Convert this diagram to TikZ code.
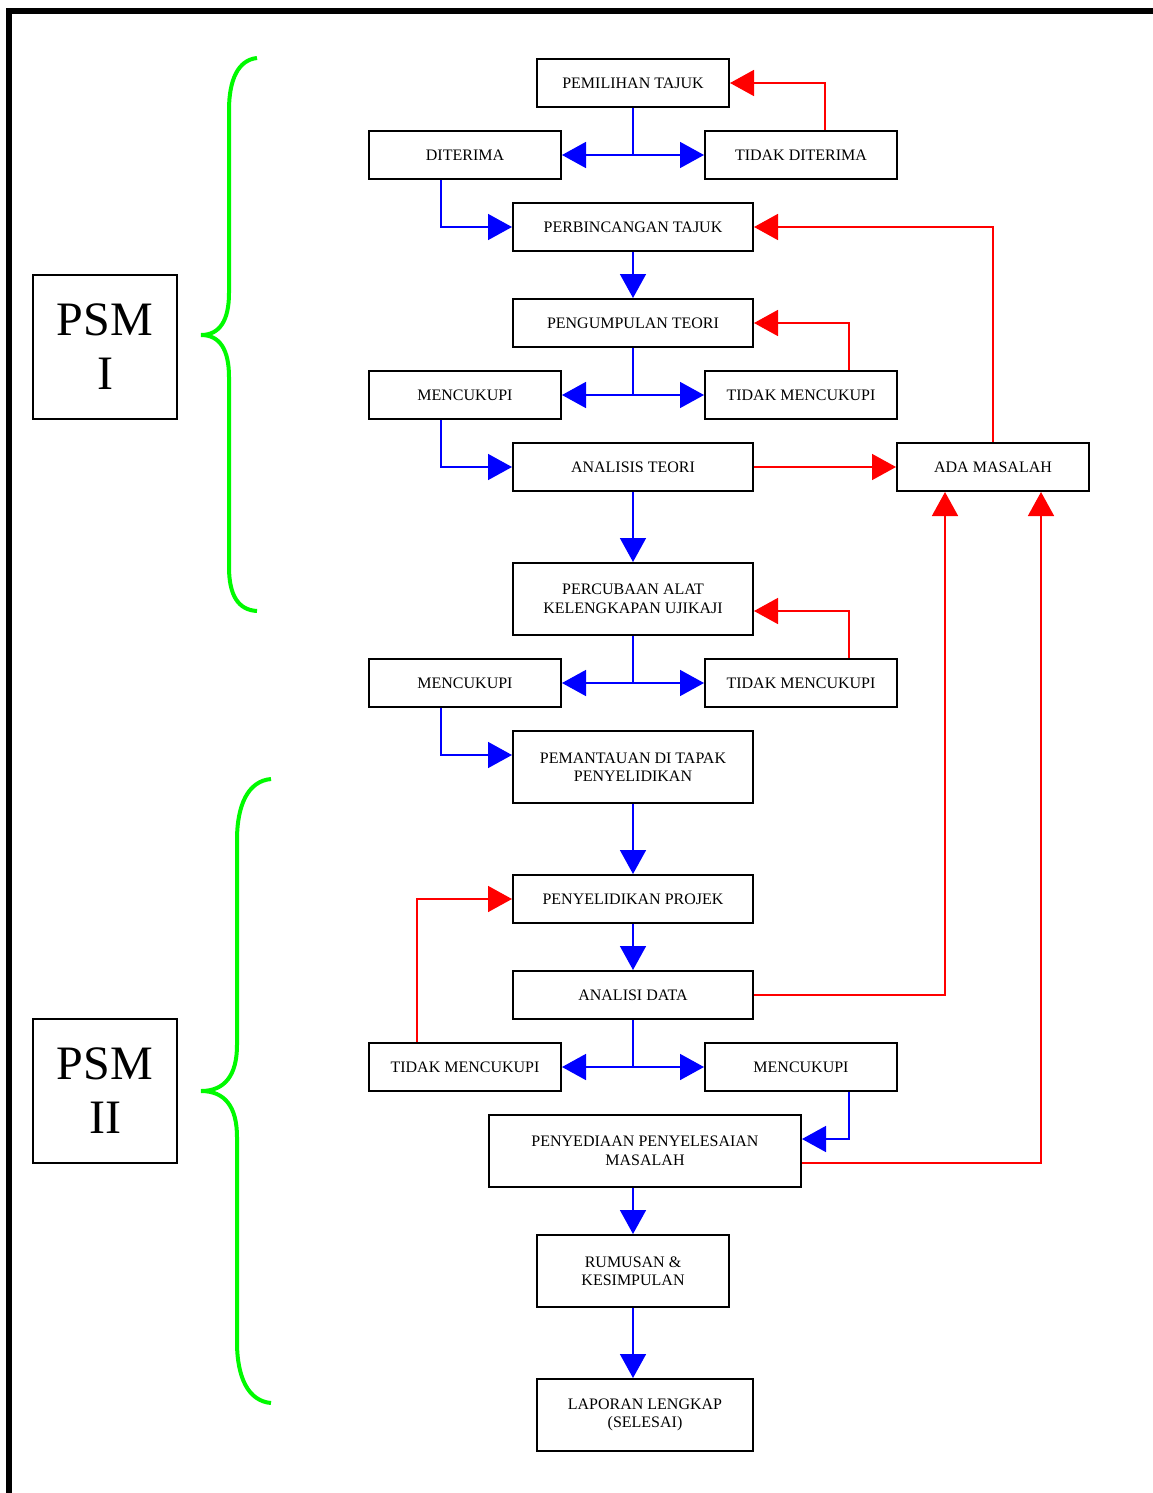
\documentclass[tikz,border=0pt]{standalone}
\usepackage{fontspec}
\setmainfont{Liberation Serif}
\usetikzlibrary{arrows.meta}
\begin{document}
\begin{tikzpicture}[x=1pt,y=-1pt,
  box/.style={draw=black,line width=2pt,align=center,inner sep=0pt,font=\fontsize{16}{18.5}\selectfont},
  sbox/.style={box,minimum width=192pt,minimum height=48pt},
  wbox/.style={box,minimum width=240pt,minimum height=48pt},
  wtall/.style={box,minimum width=240pt,minimum height=72pt},
  psmbox/.style={draw=black,line width=1.6pt,align=center,inner sep=0pt,minimum width=144pt,minimum height=144pt,font=\fontsize{48}{54}\selectfont},
  bline/.style={draw=blue,line width=1.6pt},
  rline/.style={draw=red,line width=1.6pt},
  barr/.style={bline,-{Triangle[length=24pt,width=26pt]}},
  rarr/.style={rline,-{Triangle[length=24pt,width=26pt]}},
  brace/.style={draw={rgb,255:red,0;green,250;blue,0},line width=4pt}
]
\useasboundingbox (0,0) rectangle (1153,1493);
\draw[line width=6pt] (9,1493) -- (9,11) -- (1153,11);

% PSM labels and braces
\node[psmbox] (psa) at (105,347) {PSM\\I};
\node[psmbox] (psb) at (105,1091) {PSM\\II};
\draw[brace] (257,58) .. controls (238,60) and (229,80) .. (229,110) -- (229,293)
  .. controls (229,320) and (220,335) .. (201,335)
  .. controls (220,335) and (229,350) .. (229,377) -- (229,567)
  .. controls (229,595) and (238,610) .. (257,611);
\draw[brace] (271,779) .. controls (248,781) and (237,805) .. (237,840) -- (237,1045)
  .. controls (237,1075) and (225,1091) .. (201,1091)
  .. controls (225,1091) and (237,1107) .. (237,1137) -- (237,1342)
  .. controls (237,1377) and (248,1401) .. (271,1403);

% nodes
\node[sbox] (pem) at (633,83) {PEMILIHAN TAJUK};
\node[sbox] (dit) at (465,155) {DITERIMA};
\node[sbox] (tdit) at (801,155) {TIDAK DITERIMA};
\node[wbox] (perb) at (633,227) {PERBINCANGAN TAJUK};
\node[wbox] (peng) at (633,323) {PENGUMPULAN TEORI};
\node[sbox] (m1) at (465,395) {MENCUKUPI};
\node[sbox] (tm1) at (801,395) {TIDAK MENCUKUPI};
\node[wbox] (anal) at (633,467) {ANALISIS TEORI};
\node[sbox] (ada) at (993,467) {ADA MASALAH};
\node[wtall] (perc) at (633,599) {PERCUBAAN ALAT\\KELENGKAPAN UJIKAJI};
\node[sbox] (m2) at (465,683) {MENCUKUPI};
\node[sbox] (tm2) at (801,683) {TIDAK MENCUKUPI};
\node[wtall] (pema) at (633,767) {PEMANTAUAN DI TAPAK\\PENYELIDIKAN};
\node[wbox] (peny) at (633,899) {PENYELIDIKAN PROJEK};
\node[wbox] (ad) at (633,995) {ANALISI DATA};
\node[sbox] (tm3) at (465,1067) {TIDAK MENCUKUPI};
\node[sbox] (m3) at (801,1067) {MENCUKUPI};
\node[box,minimum width=312pt,minimum height=72pt] (pp) at (645,1151) {PENYEDIAAN PENYELESAIAN\\MASALAH};
\node[box,minimum width=192pt,minimum height=72pt] (rum) at (633,1271) {RUMUSAN \&\\KESIMPULAN};
\node[box,minimum width=216pt,minimum height=72pt] (lap) at (645,1415) {LAPORAN LENGKAP\\(SELESAI)};

% junctions
\coordinate (j1) at (633,155);
\coordinate (j2) at (633,395);
\coordinate (j3) at (633,683);
\coordinate (j4) at (633,1067);

% blue connectors
\draw[bline] (pem) -- (j1);
\draw[barr] (j1) -- (dit);
\draw[barr] (j1) -- (tdit);
\draw[barr] ([xshift=-24pt]dit.south) |- (perb.west);
\draw[barr] (perb) -- (peng);
\draw[bline] (peng) -- (j2);
\draw[barr] (j2) -- (m1);
\draw[barr] (j2) -- (tm1);
\draw[barr] ([xshift=-24pt]m1.south) |- (anal.west);
\draw[barr] (anal) -- (perc);
\draw[bline] (perc) -- (j3);
\draw[barr] (j3) -- (m2);
\draw[barr] (j3) -- (tm2);
\draw[barr] ([xshift=-24pt]m2.south) |- ([yshift=12pt]pema.west);
\draw[barr] (pema) -- (peny);
\draw[barr] (peny) -- (ad);
\draw[bline] (ad) -- (j4);
\draw[barr] (j4) -- (tm3);
\draw[barr] (j4) -- (m3);
\draw[barr] ([xshift=48pt]m3.south) |- ([yshift=12pt]pp.east);
\draw[barr] ([xshift=-12pt]pp.south) -- (rum.north);
\draw[barr] (rum.south) -- ([xshift=-12pt]lap.north);

% red connectors
\draw[rarr] ([xshift=24pt]tdit.north) |- (pem.east);
\draw[rarr] (ada.north) |- (perb.east);
\draw[rarr] ([xshift=48pt]tm1.north) |- (peng.east);
\draw[rarr] (anal) -- (ada);
\draw[rarr] ([xshift=48pt]tm2.north) |- ([yshift=-12pt]perc.east);
\draw[rarr] ([xshift=-48pt]tm3.north) |- (peny.west);
\draw[rarr] (ad.east) -| ([xshift=-48pt]ada.south);
\draw[rarr] ([yshift=-12pt]pp.east) -| ([xshift=48pt]ada.south);
\end{tikzpicture}
\end{document}
